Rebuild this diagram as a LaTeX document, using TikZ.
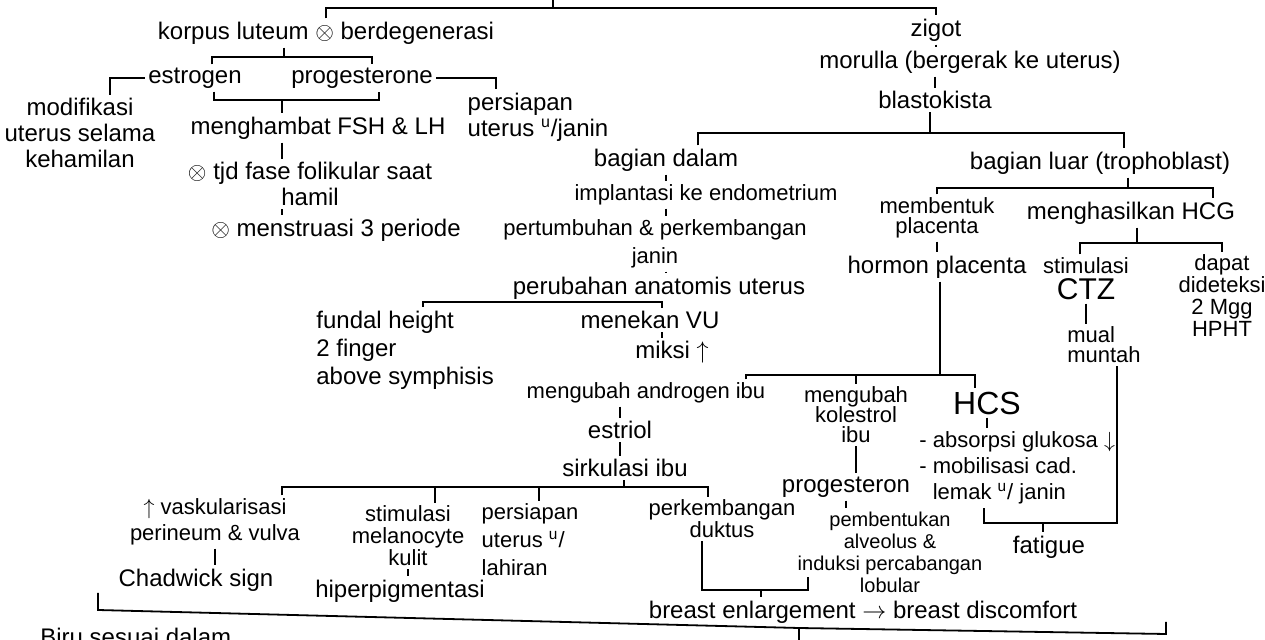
\documentclass[tikz,border=0pt]{standalone}
\usepackage{fontspec}
\setmainfont{Liberation Sans}
\usetikzlibrary{positioning}

\begin{document}
\begin{tikzpicture}[x=0.5pt, y=-0.5pt,
  teks/.style={inner sep=1.5pt, align=center, font=\fontsize{12}{13}\selectfont},
  kecil/.style={font=\fontsize{11}{12}\selectfont},
  garis/.style={line width=0.9pt},
  every node/.style={teks}]
\fill[white] (0,0) rectangle (1265,640);
\useasboundingbox (0,0) rectangle (1265,640);

% kiri: korpus luteum
\node (lut) at (326,33) {korpus luteum $\otimes$ berdegenerasi};
\node (est) at (195,78) {estrogen};
\node (prog) at (362,78) {progesterone};
\node (modif) at (80,133) {modifikasi\\uterus selama\\kehamilan};
\node[align=left] (persi) at (538,117) {persiapan\\uterus \textsuperscript{u}/janin};
\node (hamb) at (318,128) {menghambat FSH \& LH};
\node (fol) at (310,184) {$\otimes$ tjd fase folikular saat\\hamil};
\node (mens) at (336,230) {$\otimes$ menstruasi 3 periode};

% kanan: zigot
\node (zig) at (936,30) {zigot};
\node (mor) at (970,62) {morulla (bergerak ke uterus)};
\node (blas) at (935,100) {blastokista};
\node (dalam) at (666,160) {bagian dalam};
\node (luar) at (1100,163) {bagian luar (trophoblast)};
\node[kecil] (impl) at (706,195) {implantasi ke endometrium};
\node[kecil] (tumb) at (655,244) {pertumbuhan \& perkembangan\\[2pt]janin};
\node (ubah) at (659,288) {perubahan anatomis uterus};
\node[anchor=west, align=left] (fund) at (313,350) {fundal height\\[1pt]2 finger\\[1pt]above symphisis};
\node (tekan) at (650,320) {menekan VU};
\node (miksi) at (672,352) {miksi $\uparrow$};
\node[kecil] (bentuk) at (937,218) {membentuk\\[-2pt]placenta};
\node (hasil) at (1131,213) {menghasilkan HCG};
\node (hormon) at (937,267) {hormon placenta};
\node[kecil] (ctz) at (1086,279) {stimulasi\\[1pt]{\fontsize{15}{15}\selectfont CTZ}};
\node[kecil] (dapat) at (1222,296) {dapat\\[-1pt]dideteksi\\[-1pt]2 Mgg\\[-1pt]HPHT};
\node[kecil, align=left] (mual) at (1104,345) {mual\\[-2pt]muntah};

% hormon placenta
\node[kecil] (andro) at (646,393) {mengubah androgen ibu};
\node[kecil] (kol) at (856,415) {mengubah\\[-2pt]kolestrol\\[-2pt]ibu};
\node (hcs) at (987,403) {\fontsize{16}{16}\selectfont HCS};
\node (estr) at (620,430) {estriol};
\node (sirk) at (625,468) {sirkulasi ibu};
\node[kecil, anchor=west, align=left] (gluk) at (916,468) {- absorpsi glukosa $\downarrow$\\[1pt]- mobilisasi cad.\\[1pt]\phantom{- }lemak \textsuperscript{u}/ janin};
\node (proges) at (846,487) {progesteron};
\node[kecil] (vask) at (215,522) {$\uparrow$ vaskularisasi\\[1pt]perineum \& vulva};
\node (chad) at (196,580) {Chadwick sign};
\node[kecil] (stim) at (408,536) {stimulasi\\[-1pt]melanocyte\\[-1pt]kulit};
\node (hiper) at (400,591) {hiperpigmentasi};
\node[kecil, align=left] (siap) at (530,540) {persiapan\\[2pt]uterus \textsuperscript{u}/\\[2pt]lahiran};
\node[kecil] (dukt) at (722,519) {perkembangan\\[-1pt]duktus};
\node[font=\fontsize{10}{11}\selectfont] (alv) at (890,552) {pembentukan\\alveolus \&\\induksi percabangan\\lobular};
\node (fat) at (1049,547) {fatigue};
\node (breast) at (863,612) {breast enlargement $\rightarrow$ breast discomfort};
\node[anchor=base west] (biru) at (37,646) {Biru sesuai dalam};

% garis atas
\coordinate (atas) at (553,0);
\coordinate (b0) at (553,8);
\draw[garis] (b0) -- (atas);
\draw[garis] (lut.north) |- (b0) -| (zig.north);

% korpus luteum
\coordinate (b1) at (284,57);
\coordinate (b2) at (282,100);
\draw[garis] (lut.south -| b1) -- (b1);
\draw[garis] ([xshift=8.5pt]est.north) |- (b1) -| ([xshift=5pt]prog.north);
\draw[garis] ([xshift=9.5pt]est.south) |- (b2) -| ([xshift=8.5pt]prog.south);
\draw[garis] (b2) -- (hamb.north -| b2);
\draw[garis] (est.west) -| ([xshift=15pt]modif.north);
\draw[garis] (prog.east) -| ([xshift=-21pt]persi.north);
\draw[garis] (hamb.south -| b2) -- (fol.north -| b2);
\draw[garis] (fol.south -| b2) -- (mens.north -| b2);

% zigot
\draw[garis] (zig.south) -- (mor.north -| zig);
\draw[garis] (mor.south -| blas) -- (blas.north);
\coordinate (b3) at (930,133);
\draw[garis] (blas.south -| b3) -- (b3);
\draw[garis] ([xshift=16pt]dalam.north) |- (b3) -| ([xshift=12pt]luar.north);
\draw[garis] (dalam.south) -- (impl.north -| dalam);
\draw[garis] (impl.south -| dalam) -- (tumb.north -| dalam);
\draw[garis] (tumb.south -| dalam) -- (ubah.north -| dalam);
\coordinate (b4) at (662,302);
\draw[garis] (ubah.south -| b4) -- (b4) -| ([xshift=55pt]fund.north west);
\draw[garis] (b4) -- (tekan.north -| b4);
\draw[garis] (tekan.south -| b4) -- (miksi.north -| b4);

% bagian luar
\coordinate (b5) at (1128,188);
\draw[garis] (luar.south -| b5) -- (b5);
\draw[garis] (bentuk.north) |- (b5) -| ([xshift=41pt]hasil.north);
\draw[garis] (bentuk.south) -- (hormon.north -| bentuk);
\coordinate (b7) at (1137,243);
\draw[garis] (hasil.south -| b7) -- (b7);
\draw[garis] ([xshift=-3pt]ctz.north) |- (b7) -| (dapat.north);
\draw[garis] (ctz.south) -- (mual.north -| ctz);

% hormon placenta
\coordinate (b6) at (940,375);
\draw[garis] (hormon.south -| b6) -- (b6);
\draw[garis] ([xshift=50pt]andro.north) |- (b6) -| ([xshift=-6pt]hcs.north);
\draw[garis] (kol.north) -- (kol.north |- b6);
\draw[garis] (hcs.south) -- (gluk.north -| hcs);
\coordinate (b8) at (1043,523);
\draw[garis] ([xshift=6.5pt]mual.south) |- (b8) -| ([xshift=34pt]gluk.south west);
\draw[garis] (b8) -- (fat.north -| b8);
\draw[garis] (andro.south -| estr) -- (estr.north);
\draw[garis] (estr.south) -- (sirk.north -| estr);
\draw[garis] (kol.south) -- (proges.north -| kol);
\draw[garis] (proges.south) -- (alv.north -| proges);

% sirkulasi ibu
\coordinate (b9) at (624,487);
\draw[garis] (sirk.south -| b9) -- (b9);
\draw[garis] ([xshift=33.5pt]vask.north) |- (b9) -| ([xshift=-7pt]dukt.north);
\draw[garis] ([xshift=13.5pt]stim.north) |- (b9);
\draw[garis] ([xshift=4.5pt]siap.north) |- (b9);
\draw[garis] (vask.south) -- (chad.north -| vask);
\draw[garis] (stim.south) -- (hiper.north -| stim);
\coordinate (b10) at (761,590);
\coordinate (alvkaki) at (808,577);
\draw[garis] ([xshift=-10pt]dukt.south) |- (b10) -| (alvkaki);
\draw[garis] (b10) -- (breast.north -| b10);

% garis bawah
\coordinate (k1) at (98,593);
\coordinate (k2) at (98,610);
\coordinate (b11) at (799,628);
\coordinate (k3) at (1166,634);
\coordinate (k4) at (1166,622);
\coordinate (k5) at (799,640);
\draw[garis] (k1) -- (k2) -- (b11) -- (k3) -- (k4);
\draw[garis] (b11) -- (k5);
\end{tikzpicture}
\end{document}
